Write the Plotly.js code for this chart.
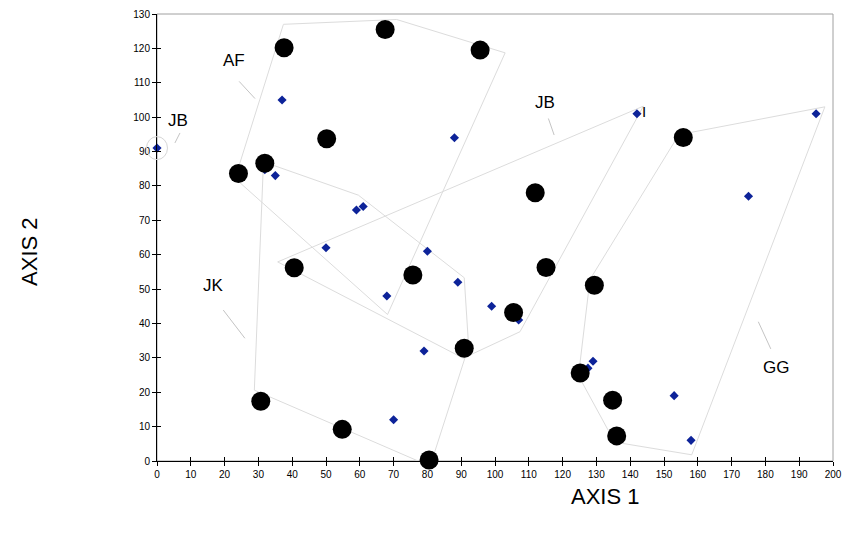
<!DOCTYPE html>
<html><head><meta charset="utf-8">
<script src="https://cdn.plot.ly/plotly-3.0.1.min.js"></script>
<style>html,body{margin:0;padding:0;background:#fff}#chart{width:842px;height:538px}</style>
</head><body><div id="chart"></div>
<script>
// Large black points
const dotX = [37.6, 67.5, 95.6, 50.2, 31.9, 24.1, 40.6, 75.7, 90.9, 30.7, 54.8, 80.5, 115.1, 105.5, 129.4, 125.2, 134.8, 136.0, 155.7, 111.9];
const dotY = [120.2, 125.5, 119.5, 93.7, 86.6, 83.6, 56.2, 54.1, 32.8, 17.4, 9.2, 0.3, 56.3, 43.2, 51.1, 25.6, 17.7, 7.3, 94.1, 78.0];
// Small blue points
const blueX = [0, 37, 88, 35, 59, 61, 50, 80, 68, 89, 99, 79, 70, 107, 129, 153, 158, 142, 195, 175, 31.9, 127.5];
const blueY = [91, 105, 94, 83, 73, 74, 62, 61, 48, 52, 45, 32, 12, 41, 29, 19, 6, 101, 101, 77, 84.7, 27.0];
// Group outlines
const afX = [37.4, 70.9, 103.0, 68.2, 23.1, 37.4];
const afY = [127.0, 128.4, 118.7, 42.6, 82.2, 127.0];
const jkX = [31.5, 59.6, 90.9, 92.2, 80.8, 28.8, 31.5];
const jkY = [87.0, 77.3, 53.3, 33.3, -1.5, 20.6, 87.0];
const jbX = [35.7, 143.9, 107.4, 90.6, 35.7];
const jbY = [57.9, 103.2, 37.6, 29.9, 57.9];
const ggX = [154.4, 197.6, 158.2, 135.4, 124.7, 128.1, 154.4];
const ggY = [94.9, 103.0, 1.8, 5.5, 24.8, 52.8, 94.9];
// Group labels
const labelText = ["AF", "JB", "JB", "JK", "GG", "I"];
const labelX = [22.8, 6.2, 114.8, 16.8, 183.1, 144.2];
const labelY = [116.6, 99.1, 104.2, 51.0, 27.3, 101.7];
// Leader lines
const leaderX0 = [24.3, 6.8, 115.8, 19.6, 177.9];
const leaderY0 = [110.4, 95.4, 99.6, 43.9, 40.5];
const leaderX1 = [29.0, 5.3, 117.5, 26.0, 181.6];
const leaderY1 = [105.4, 92.5, 94.8, 35.7, 32.6];
const axisTitles = ["AXIS 1", "AXIS 2"];
const xRange = [0, 200];
const yRange = [0, 130];

const FONT = "Liberation Sans, Arial, sans-serif";
const polyStyle = {color: "#dcdcdc", width: 1};
const polys = [[afX, afY], [jkX, jkY], [jbX, jbY], [ggX, ggY]].map(p => ({
  type: "scatter", mode: "lines", x: p[0], y: p[1], line: polyStyle,
  hoverinfo: "skip", cliponaxis: false
}));

const traces = polys.concat([
  {type: "scatter", mode: "markers", x: blueX, y: blueY, cliponaxis: false,
   marker: {symbol: "diamond", size: 7, color: "#0d2399"}},
  {type: "scatter", mode: "markers", x: dotX, y: dotY, cliponaxis: false,
   marker: {symbol: "circle", size: 19, color: "#000000"}},
  {type: "scatter", mode: "markers", x: [], y: [], xaxis: "x2", yaxis: "y2"}
]);

const shapes = [
  {type: "rect", xref: "paper", yref: "paper", x0: 0, x1: 1, y0: 0, y1: 1,
   line: {color: "#a0a0a0", width: 1}, layer: "below"},
  {type: "circle", xref: "paper", yref: "paper", xsizemode: "pixel", ysizemode: "pixel",
   xanchor: (blueX[0] - xRange[0]) / (xRange[1] - xRange[0]),
   yanchor: (blueY[0] - yRange[0]) / (yRange[1] - yRange[0]),
   x0: -10.5, x1: 10.5, y0: -11.5, y1: 11.5,
   line: {color: "#d6d6d6", width: 1}}
];
for (let i = 0; i < leaderX0.length; i++) {
  shapes.push({type: "line", xref: "x", yref: "y", x0: leaderX0[i], y0: leaderY0[i],
    x1: leaderX1[i], y1: leaderY1[i], line: {color: "#c4c4c4", width: 1}});
}

const annotations = labelText.map((t, i) => ({
  text: t, x: labelX[i], y: labelY[i], xref: "x", yref: "y", showarrow: false,
  xanchor: "center", yanchor: "middle", font: {family: FONT, size: t === "I" ? 15 : 17, color: "#000"}
}));
annotations.push({text: axisTitles[0], xref: "paper", yref: "paper", x: 0.663, y: -0.0805,
  showarrow: false, xanchor: "center", yanchor: "middle", font: {family: FONT, size: 22, color: "#000"}});
annotations.push({text: axisTitles[1], xref: "paper", yref: "paper", x: -0.188, y: 0.4676,
  showarrow: false, xanchor: "center", yanchor: "middle", textangle: -90,
  font: {family: FONT, size: 22, color: "#000"}});

const baseAxis = {showgrid: false, zeroline: false, fixedrange: true, tickmode: "linear",
  tick0: 0, dtick: 10, ticklen: 4, tickwidth: 1, tickcolor: "#000"};

const layout = {
  width: 842, height: 538,
  margin: {l: 157, r: 9, t: 14, b: 77},
  paper_bgcolor: "#fff", plot_bgcolor: "#fff",
  showlegend: false,
  font: {family: FONT, color: "#000"},
  xaxis: Object.assign({}, baseAxis, {range: xRange, ticks: "outside", showline: true,
    linecolor: "#000", linewidth: 1, tickfont: {family: FONT, size: 10, color: "#000"}}),
  yaxis: Object.assign({}, baseAxis, {range: yRange, ticks: "outside", showline: true,
    linecolor: "#000", linewidth: 1, tickfont: {family: FONT, size: 10, color: "#000"}}),
  xaxis2: Object.assign({}, baseAxis, {range: xRange, ticks: "inside", overlaying: "x",
    anchor: "y", side: "bottom", showticklabels: false, showline: false}),
  yaxis2: Object.assign({}, baseAxis, {range: yRange, ticks: "inside", overlaying: "y",
    anchor: "x", side: "left", showticklabels: false, showline: false}),
  shapes: shapes,
  annotations: annotations
};

Plotly.newPlot("chart", traces, layout, {staticPlot: true, displayModeBar: false});
</script>
</body></html>
